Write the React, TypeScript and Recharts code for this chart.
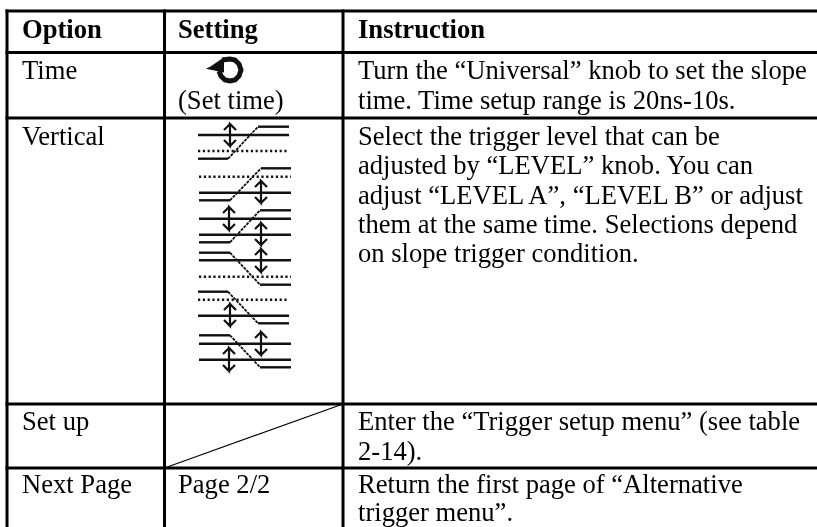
import React from 'react';
import { LineChart, Line, XAxis, YAxis, ReferenceLine, ReferenceDot } from 'recharts';

const WIDTH = 817;
const HEIGHT = 527;

// table text
const headers = ['Option', 'Setting', 'Instruction'];
const options = ['Time', 'Vertical', 'Set up', 'Next Page'];
const settings = ['(Set time)', 'Page 2/2'];
const timeText = ['Turn the “Universal” knob to set the slope', 'time. Time setup range is 20ns-10s.'];
const verticalText = [
  'Select the trigger level that can be',
  'adjusted by “LEVEL” knob. You can',
  'adjust “LEVEL A”, “LEVEL B” or adjust',
  'them at the same time. Selections depend',
  'on slope trigger condition.',
];
const setupText = ['Enter the “Trigger setup menu” (see table', '2-14).'];
const nextText = ['Return the first page of “Alternative', 'trigger menu”.'];

// grid, in pixels of the picture
const columnEdges = [7, 164.5, 343];
const rowEdges = [11, 52.5, 118, 404, 468];

type Pt = { x: number; y: number };
const P = (...n: number[]): Pt[] => {
  const out: Pt[] = [];
  for (let i = 0; i < n.length; i += 2) out.push({ x: n[i], y: n[i + 1] });
  return out;
};
const arrow = (x: number, y0: number, y1: number) =>
  P(x - 6, y0 + 6, x, y0, x + 6, y0 + 6, x, y0, x, y1, x - 6, y1 - 6, x, y1, x + 6, y1 - 6);

// slope icons
const solidLines = [
  P(258, 126.7, 289, 126.7), P(198, 135, 289, 135), P(198, 158.7, 228, 158.7),
  P(261, 168.3, 291, 168.3), P(199, 192.7, 291, 192.7), P(199, 200.3, 230, 200.3),
  P(260, 210.3, 291, 210.3), P(199, 218.7, 291, 218.7), P(199, 234.7, 291, 234.7), P(199, 242.3, 230, 242.3),
  P(199, 252.7, 230, 252.7), P(199, 260.3, 291, 260.3), P(260, 284.7, 291, 284.7),
  P(198, 291.7, 228, 291.7), P(198, 315.7, 289, 315.7), P(258, 323.3, 289, 323.3),
  P(199, 335.3, 230, 335.3), P(199, 343.7, 291, 343.7), P(199, 359.7, 291, 359.7), P(260, 367.3, 291, 367.3),
];
const dottedLines = [P(198, 151, 289, 151), P(199, 176.7, 291, 176.7), P(199, 276.7, 291, 276.7), P(198, 299.7, 289, 299.7)];
const slopes = [
  P(228, 158.7, 258, 126.7), P(230, 200.3, 261, 168.3), P(230, 242.3, 260, 210.3),
  P(230, 252.7, 260, 284.7), P(228, 291.7, 258, 323.3), P(230, 335.3, 260, 367.3),
];
const arrows = [
  arrow(230, 124, 146), arrow(261, 181, 203), arrow(229, 207, 230), arrow(261, 223, 245),
  arrow(261, 249, 272), arrow(230, 304, 326), arrow(261, 332, 355), arrow(229, 348, 371),
];

// universal knob glyph
const knobRing = P(222, 60, 230, 59, 235, 60, 239, 64, 241, 70, 239, 76, 235, 80, 230, 81, 225, 80, 221, 76, 219, 71);
const knobHead = P(212, 68, 222, 61, 222, 70, 212, 68, 218, 65, 218, 68);

const Baseline = (value: string, x: number, y: number, bold = false) => (
  <ReferenceDot
    key={`${value}-${y}`}
    x={x}
    y={y}
    r={0}
    ifOverflow="visible"
    shape={(p: any) => (
      <text
        x={p.cx}
        y={p.cy}
        fontFamily='"Liberation Serif"'
        fontSize={26.6}
        fontWeight={bold ? 700 : 400}
        fill="#000"
      >
        {value}
      </text>
    )}
  />
);

const Stroke = (pts: Pt[], key: string, width: number, dash?: string) => (
  <Line
    key={key}
    data={pts}
    dataKey="y"
    stroke="#111"
    strokeWidth={width}
    strokeDasharray={dash}
    dot={false}
    activeDot={false}
    isAnimationActive={false}
    strokeLinecap="butt"
    legendType="none"
  />
);

export default function App() {
  const [c0, c1, c2] = columnEdges;
  const textX = [22, 178, 358];
  return (
    <div style={{ position: 'absolute', left: 0, top: 0, width: WIDTH, height: HEIGHT, background: '#fff', filter: 'blur(0.35px)' }}>
      <LineChart width={WIDTH} height={HEIGHT} margin={{ top: 0, right: 0, bottom: 0, left: 0 }}>
        <XAxis type="number" dataKey="x" domain={[0, WIDTH]} hide allowDataOverflow />
        <YAxis type="number" domain={[0, HEIGHT]} reversed hide allowDataOverflow />

        {columnEdges.map((x) => (
          <ReferenceLine key={x} segment={[{ x, y: rowEdges[0] - 1.5 }, { x, y: HEIGHT }]} stroke="#000" strokeWidth={3} />
        ))}
        {rowEdges.map((y) => (
          <ReferenceLine key={y} segment={[{ x: c0 - 1.5, y }, { x: WIDTH, y }]} stroke="#000" strokeWidth={3} />
        ))}
        <ReferenceLine segment={[{ x: c1, y: rowEdges[4] }, { x: c2, y: rowEdges[3] }]} stroke="#000" strokeWidth={1.2} />

        {solidLines.map((p, i) => Stroke(p, `s${i}`, 2.4))}
        {dottedLines.map((p, i) => Stroke(p, `d${i}`, 2.4, '2.2 2.6'))}
        {slopes.map((p, i) => Stroke(p, `l${i}`, 1.8, '3 1'))}
        {arrows.map((p, i) => Stroke(p, `a${i}`, 2.2))}
        {Stroke(knobRing, 'ring', 5)}
        {Stroke(knobHead, 'head', 4)}

        {headers.map((h, i) => Baseline(h, textX[i], 38, true))}
        {Baseline(options[0], textX[0], 79)}
        {Baseline(options[1], textX[0], 145)}
        {Baseline(options[2], textX[0], 430)}
        {Baseline(options[3], textX[0], 493)}
        {Baseline(settings[0], textX[1], 108.5)}
        {Baseline(settings[1], textX[1], 493)}
        {timeText.map((t, i) => Baseline(t, textX[2], 79 + i * 29.5))}
        {verticalText.map((t, i) => Baseline(t, textX[2], 145 + i * 29.3))}
        {setupText.map((t, i) => Baseline(t, textX[2], 430 + i * 29.5))}
        {nextText.map((t, i) => Baseline(t, textX[2], 493 + i * 28.3))}
      </LineChart>
    </div>
  );
}
